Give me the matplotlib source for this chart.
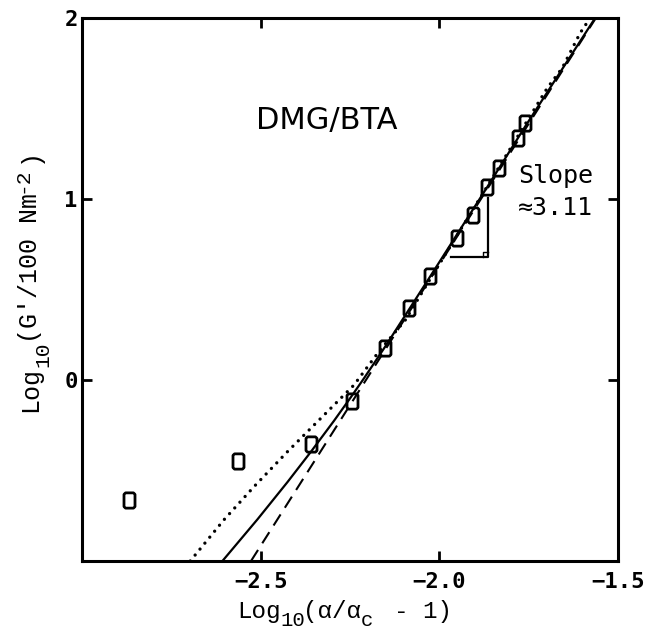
import matplotlib.pyplot as plt
import matplotlib.path as mpath
import matplotlib.transforms as mtransforms

# measured G' points (log10 of reduced distance vs log10 modulus)
pts_x = [-2.869, -2.564, -2.360, -2.243, -2.151, -2.084, -2.025, -1.950,
         -1.905, -1.866, -1.832, -1.779, -1.760]
pts_y = [-0.663, -0.448, -0.354, -0.116, 0.177, 0.398, 0.575, 0.785,
         0.912, 1.066, 1.171, 1.337, 1.420]

# fitted curves
solid_x = [-2.607, -2.509, -2.425, -2.360, -2.295, -2.249, -2.211, -2.151,
           -2.025, -1.866, -1.760, -1.564]
solid_y = [-1.0, -0.770, -0.564, -0.398, -0.226, -0.099, 0.009, 0.186,
           0.574, 1.066, 1.400, 2.0]
dotted_x = [-2.697, -2.603, -2.519, -2.425, -2.332, -2.239, -2.170, -2.095,
            -2.025, -1.866, -1.698, -1.656, -1.606, -1.578]
dotted_y = [-1.0, -0.773, -0.590, -0.396, -0.212, -0.028, 0.155, 0.332,
            0.560, 1.070, 1.613, 1.724, 1.917, 2.0]
dashed_x = [-2.527, -1.562]
dashed_y = [-1.0, 2.0]

slope = 3.11
tri_x0, tri_x1, tri_y0 = -1.968, -1.863, 0.680

xticks = [-2.5, -2.0, -1.5]
xtick_labels = ["\u22122.5", "\u22122.0", "\u22121.5"]
yticks = [0, 1, 2]
ytick_labels = ["0", "1", "2"]

# axis titles as (text, column, baseline shift in pt, size factor)
xlabel_parts = [("Log", 0, 0, 1), ("10", 3.0, -6, 0.85), ("(\u03b1/\u03b1", 4.5, 0, 1),
                ("c", 8.5, -6, 0.85), ("- 1)", 10.8, 0, 1)]
ylabel_parts = [("Log", 0, 0, 1), ("10", 3.0, -8.5, 0.85), ("(G'/100 Nm", 4.6, 0, 1),
                ("-2", 14.6, 7, 0.85), (")", 16.6, 0, 1)]

mono = ["Liberation Mono", "DejaVu Sans Mono"]

# tall open box with clipped corners, like a plotter "0"
hw, hh, c = 0.36, 0.5, 0.1
box = [(-hw + c, -hh), (hw - c, -hh), (hw, -hh + c), (hw, hh - c),
       (hw - c, hh), (-hw + c, hh), (-hw, hh - c), (-hw, -hh + c), (-hw + c, -hh)]
box_marker = mpath.Path(box, closed=True)

fig = plt.figure(figsize=(6.48, 6.35), dpi=100)
ax = fig.add_axes([0.1265, 0.1165, 0.8272, 0.8551])


def mono_label(x, y, parts, size, rotation=0):
    """Lay out sub/superscripted text on a fixed monospace grid."""
    adv = 0.6 * size
    for s, col, shift, scale in parts:
        along = col * adv
        dx, dy = (along, shift) if rotation == 0 else (-shift, along)
        tr = mtransforms.offset_copy(fig.transFigure, fig=fig, x=dx, y=dy, units="points")
        fig.text(x, y, s, transform=tr, fontsize=size * scale, family=mono,
                 rotation=rotation, rotation_mode="anchor", ha="left", va="baseline")


ax.plot(dotted_x, dotted_y, color="black", lw=2.4,
        linestyle=(0, (0.01, 2.3)), dash_capstyle="round")
ax.plot(dashed_x, dashed_y, color="black", lw=1.5, linestyle=(0, (6.3, 3.8)))
ax.plot(solid_x, solid_y, color="black", lw=1.6)
ax.plot(pts_x, pts_y, linestyle="none", marker=box_marker, markersize=11,
        markerfacecolor="none", markeredgecolor="black", markeredgewidth=2.0)

# slope triangle
tri_y1 = tri_y0 + slope * (tri_x1 - tri_x0)
ax.plot([tri_x0, tri_x1, tri_x1], [tri_y0, tri_y0, tri_y1], color="black", lw=1.6)
ax.plot([tri_x1 - 0.015, tri_x1 - 0.015, tri_x1], [tri_y0, tri_y0 + 0.03, tri_y0 + 0.03],
        color="black", lw=1.0)

ax.set_xlim(-3.0, -1.5)
ax.set_ylim(-1, 2)
ax.set_xticks(xticks)
ax.set_xticklabels(xtick_labels)
ax.set_yticks(yticks)
ax.set_yticklabels(ytick_labels)
ax.tick_params(direction="in", top=True, right=True, length=7, width=2)
ax.tick_params(axis="x", pad=8)
ax.tick_params(axis="y", pad=3)
for lab in ax.get_xticklabels() + ax.get_yticklabels():
    lab.set_fontfamily("DejaVu Sans Mono")
    lab.set_fontweight("bold")
    lab.set_fontsize(16)
for sp in ax.spines.values():
    sp.set_linewidth(2.2)

ax.text(-2.316, 1.434, "DMG/BTA", fontsize=22, family="DejaVu Sans",
        ha="center", va="center")
ax.text(-1.779, 1.088, "Slope", fontsize=18, family="DejaVu Sans Mono")
ax.text(-1.779, 0.912, "\u22483.11", fontsize=18, family="DejaVu Sans Mono")

mono_label(237 / 648, 1 - 618 / 635, xlabel_parts, 17.5)
mono_label(37 / 648, 1 - 412 / 635, ylabel_parts, 18, rotation=90)

fig.savefig("out.png", dpi=100)
